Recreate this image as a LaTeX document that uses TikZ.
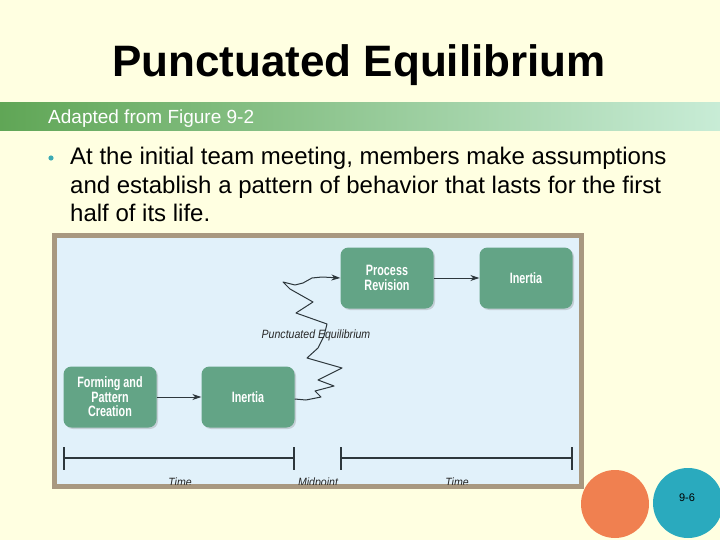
\documentclass[tikz,border=0pt]{standalone}
\usepackage{fontspec}
\setmainfont{Liberation Sans}
\newfontfamily\boxfont[FakeStretch=0.72]{Liberation Sans}
\newfontfamily\slimfont[FakeStretch=0.88]{Liberation Sans}
\usepackage{tikz}
\usetikzlibrary{arrows,arrows.meta}
\usetikzlibrary{calc,shadows}
\definecolor{slidebg}{RGB}{255,255,225}
\definecolor{bandleft}{RGB}{96,166,86}
\definecolor{bandmid}{RGB}{132,202,182}
\definecolor{bandright}{RGB}{200,236,214}
\definecolor{framebrown}{RGB}{168,152,128}
\definecolor{panelblue}{RGB}{225,241,250}
\definecolor{boxgreen}{RGB}{99,164,134}
\definecolor{linegray}{RGB}{45,55,60}
\definecolor{dotteal}{RGB}{60,170,180}
\definecolor{circorange}{RGB}{240,128,80}
\definecolor{circteal}{RGB}{42,170,190}
\tikzset{
 stagebox/.style={draw=none, fill=boxgreen, rounded corners=8pt, minimum width=93pt,
  minimum height=61pt, align=center, text=white,
  font=\boxfont\bfseries\fontsize{15}{14.5}\selectfont,
  drop shadow={shadow xshift=1.5pt, shadow yshift=-1.5pt, opacity=0.3}},
 flowarrow/.style={linegray, line width=1pt, ->, >={Stealth[length=9pt,width=6pt]}},
 timelabel/.style={font=\slimfont\itshape\fontsize{12}{12}\selectfont, anchor=base, text=black!85},
 bodyline/.style={anchor=base west, font=\fontsize{24}{28.8}\selectfont, inner sep=0pt}
}

\begin{document}
\begin{tikzpicture}[x=1pt, y=-1pt]
\useasboundingbox (0,0) rectangle (720,540);
\fill[slidebg] (0,0) rectangle (720,540);
\node[anchor=base, font=\bfseries\fontsize{44}{48}\selectfont, inner sep=0pt] (title) at (359,77) {Punctuated Equilibrium};
\shade[left color=bandleft, middle color=bandmid, right color=bandright] (0,103) rectangle (720,131);
\node[anchor=base west, text=white, font=\fontsize{19}{22}\selectfont, inner sep=0pt] (source) at (48,124) {Adapted from Figure 9-2};
\fill[dotteal] (51,158) circle (2.6);
\node[bodyline] (line1) at (70,165) {At the initial team meeting, members make assumptions};
\node[bodyline] (line2) at (70,193.5) {and establish a pattern of behavior that lasts for the first};
\node[bodyline] (line3) at (70,222) {half of its life.};
\fill[framebrown] (52,233) rectangle (584,489);
\fill[panelblue] (57,238) rectangle (579,484);
\node[stagebox] (forming) at (110,397) {Forming and\\Pattern\\Creation};
\node[stagebox] (inertiaA) at (248,397) {Inertia};
\node[stagebox] (revision) at (387,278) {Process\\Revision};
\node[stagebox] (inertiaB) at (526,278) {Inertia};
\draw[flowarrow] (forming) -- (inertiaA);
\draw[flowarrow] (revision) -- (inertiaB);
\draw[flowarrow, line join=round] ($(inertiaA.east)+(0,2)$) -- (306,400) -- (321,397) -- (315,391) -- (334,386)
 -- (318,380) -- (342,368) -- (307,358) -- (318,348) -- (324,336) -- (327,324) -- (296,313) -- (313,302)
 -- (290,289) -- (283,282) -- (295,285) -- (303,283) -- (312,278) -- (322,277) -- (revision.west);
\node[font=\slimfont\itshape\fontsize{12}{12}\selectfont, inner sep=0pt, text=black!85] (punct) at (316,335) {Punctuated Equilibrium};
\coordinate (startA) at (64,458);
\coordinate (midA) at (294,458);
\coordinate (midB) at (341,458);
\coordinate (endB) at (572,458);
\draw[linegray, line width=1.2pt] (startA) -- (midA);
\draw[linegray, line width=1.2pt] (midB) -- (endB);
\foreach \p in {startA,midA,midB,endB} {
 \draw[linegray, line width=1.2pt] ($(\p)+(0,-11)$) -- ($(\p)+(0,12)$);
}
\begin{scope}
\clip (57,238) rectangle (579,484);
\node[timelabel] (timeA) at (180,486) {Time};
\node[timelabel] (midpoint) at (318,486) {Midpoint};
\node[timelabel] (timeB) at (457,486) {Time};
\end{scope}
\fill[circorange] (615,504) circle (34);
\fill[circteal] (688,503) circle (35);
\node[font=\fontsize{11}{12}\selectfont, inner sep=0pt] (pagenum) at (687,498) {9-6};
\end{tikzpicture}
\end{document}
